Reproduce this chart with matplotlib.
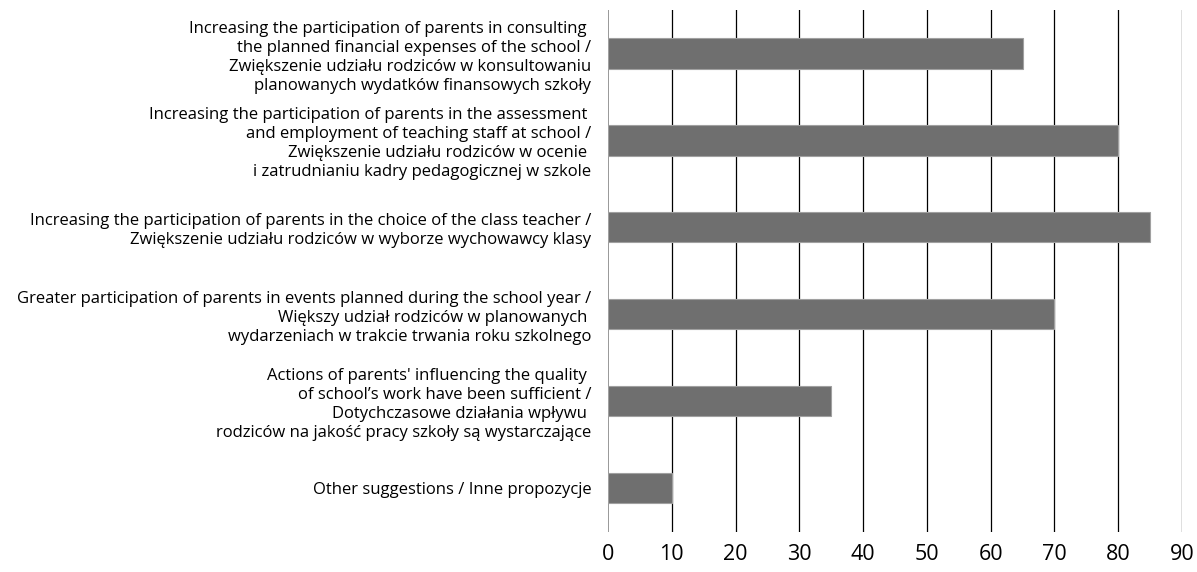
import matplotlib.pyplot as plt

categories = [
    "Increasing the participation of parents in consulting \nthe planned financial expenses of the school /\nZwiększenie udziału rodziców w konsultowaniu\nplanowanych wydatków finansowych szkoły",
    "Increasing the participation of parents in the assessment \nand employment of teaching staff at school /\nZwiększenie udziału rodziców w ocenie \ni zatrudnianiu kadry pedagogicznej w szkole",
    "Increasing the participation of parents in the choice of the class teacher /\nZwiększenie udziału rodziców w wyborze wychowawcy klasy",
    "Greater participation of parents in events planned during the school year /\nWiększy udział rodziców w planowanych \nwydarzeniach w trakcie trwania roku szkolnego",
    "Actions of parents' influencing the quality \nof school’s work have been sufficient /\nDotychczasowe działania wpływu \nrodziców na jakość pracy szkoły są wystarczające",
    "Other suggestions / Inne propozycje",
]
values = [65, 80, 85, 70, 35, 10]
xticks = [0, 10, 20, 30, 40, 50, 60, 70, 80, 90]

plt.rcParams['font.family'] = ['Open Sans', 'DejaVu Sans']

fig = plt.figure(figsize=(11.97, 5.72), dpi=100)
ax = fig.add_axes([0.508, 0.070, 0.4795, 0.9125])

pos = list(range(len(categories)))
ax.barh(pos, values, height=0.345, color='#6f6f6f', edgecolor='#a0a0a0', linewidth=0.8, zorder=3)
ax.set_ylim(len(categories) - 0.5, -0.5)
ax.set_xlim(0, 90)
ax.set_xticks(xticks)
ax.set_xticklabels([str(t) for t in xticks], fontsize=15.5)
ax.set_yticks(pos)
ax.set_yticklabels(categories, fontsize=12, linespacing=1.25)
for lbl in ax.get_yticklabels():
    lbl.set_multialignment('right')

for t in xticks:
    ax.axvline(t, color='#888888' if t == 0 else 'black', linewidth=1.2 if t == 0 else 0.9, zorder=1)

for s in ax.spines.values():
    s.set_visible(False)
ax.tick_params(axis='both', length=0)
ax.tick_params(axis='x', pad=9)
ax.tick_params(axis='y', pad=12)

fig.savefig('out.png', dpi=100)
